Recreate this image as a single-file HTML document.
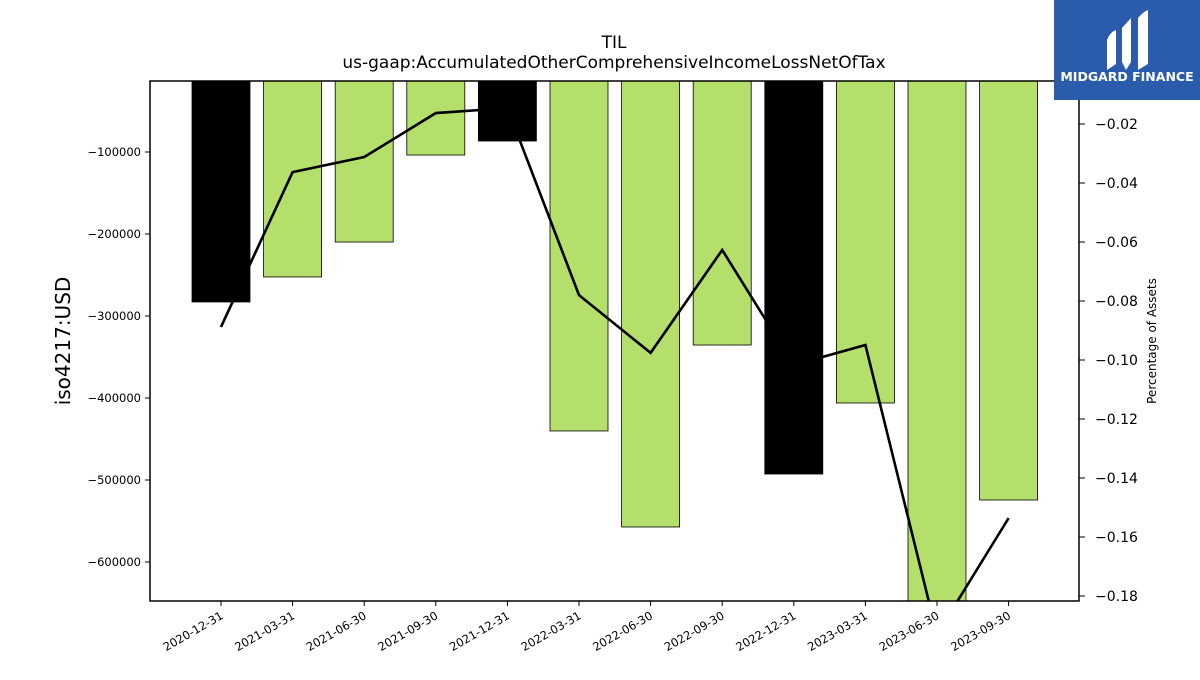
<!DOCTYPE html>
<html><head><meta charset="utf-8">
<style>
body{margin:0;background:#fff;}
svg text{font-family:"DejaVu Sans","Liberation Sans",sans-serif;}
</style></head>
<body>
<svg id="chart" width="1200" height="675" xmlns="http://www.w3.org/2000/svg">
<defs><clipPath id="plotclip"><rect x="150" y="81" width="929" height="520"/></clipPath></defs>
<text x="614" y="48" font-size="17" text-anchor="middle">TIL</text>
<text x="614" y="68" font-size="17" text-anchor="middle">us-gaap:AccumulatedOtherComprehensiveIncomeLossNetOfTax</text>
<g id="bars" clip-path="url(#plotclip)"></g>
<g id="line" clip-path="url(#plotclip)"></g>
<rect x="150" y="81" width="929" height="520" fill="none" stroke="#000" stroke-width="1.5"/>
<g id="axes"></g>
<text transform="translate(70,341) rotate(-90)" font-size="20" text-anchor="middle">iso4217:USD</text>
<text transform="translate(1156,341) rotate(-90)" font-size="12" text-anchor="middle">Percentage of Assets</text>
<g>
<rect x="1054" y="0" width="146" height="100" fill="#2b5cab"/>
<path d="M1107 40 Q1110 32 1116 30 L1116 64 L1107 70 Z" fill="#fff"/>
<path d="M1122 28 L1131 18 L1131 62 L1126 70 L1122 62 Z" fill="#fff"/>
<path d="M1138 18 Q1143 12 1148 10 L1148 64 L1138 70 Z" fill="#fff"/>
<text x="1127" y="81" font-size="12.5" font-weight="bold" fill="#fff" text-anchor="middle">MIDGARD FINANCE</text>
</g>
</svg>
<script>
const categories=["2020-12-31","2021-03-31","2021-06-30","2021-09-30","2021-12-31","2022-03-31","2022-06-30","2022-09-30","2022-12-31","2023-03-31","2023-06-30","2023-09-30"];
const values=[-282900,-252400,-209800,-103700,-86600,-440200,-557300,-335400,-492700,-406100,-700000,-524400];
const highlight=[true,false,false,false,true,false,false,false,true,false,false,false];
const pct=[-0.0888,-0.0363,-0.0312,-0.0163,-0.0146,-0.078,-0.0976,-0.0627,-0.1017,-0.0949,-0.193,-0.1536];
const leftTicks=[-100000,-200000,-300000,-400000,-500000,-600000];
const rightTicks=[-0.02,-0.04,-0.06,-0.08,-0.10,-0.12,-0.14,-0.16,-0.18];
const NS="http://www.w3.org/2000/svg";
const yL=v=>70-v/100000*82;
const yR=v=>65-v/0.02*59;
const xC=i=>221+i*71.6;
function mk(t,a,p){const e=document.createElementNS(NS,t);for(const k in a)e.setAttribute(k,a[k]);p.appendChild(e);return e;}
const bars=document.getElementById('bars'),line=document.getElementById('line'),axes=document.getElementById('axes');
categories.forEach((c,i)=>{
 const y0=yL(0),y1=yL(values[i]);
 const r=mk('rect',{x:xC(i)-29,y:y0,width:58,height:y1-y0,fill:highlight[i]?'#000':'#b5df6b',stroke:'#000','stroke-width':0.8},bars);
 
 
 const t=mk('line',{x1:xC(i),x2:xC(i),y1:601,y2:606,stroke:'#000'},axes);
 
 
 const l=mk('text',{transform:`translate(${xC(i)+3},618) rotate(-30)`,'font-size':11.5,'text-anchor':'end'},axes);
 l.textContent=c;
 
 
});
const p=mk('polyline',{points:pct.map((v,i)=>xC(i)+','+yR(v)).join(' '),fill:'none',stroke:'#000','stroke-width':2.6},line);


leftTicks.forEach(v=>{
 const y=yL(v);
 const t=mk('line',{x1:145,x2:150,y1:y,y2:y,stroke:'#000'},axes);
 
 
 const l=mk('text',{x:141,y:y+4,'font-size':11.5,'text-anchor':'end'},axes);
 l.textContent='\u2212'+Math.abs(v);
 
 
});
rightTicks.forEach(v=>{
 const y=yR(v);
 const t=mk('line',{x1:1079,x2:1085,y1:y,y2:y,stroke:'#000'},axes);
 
 
 const l=mk('text',{x:1095,y:y+5,'font-size':14},axes);
 l.textContent='\u2212'+Math.abs(v).toFixed(2);
 
 
});
</script>
</body></html>
